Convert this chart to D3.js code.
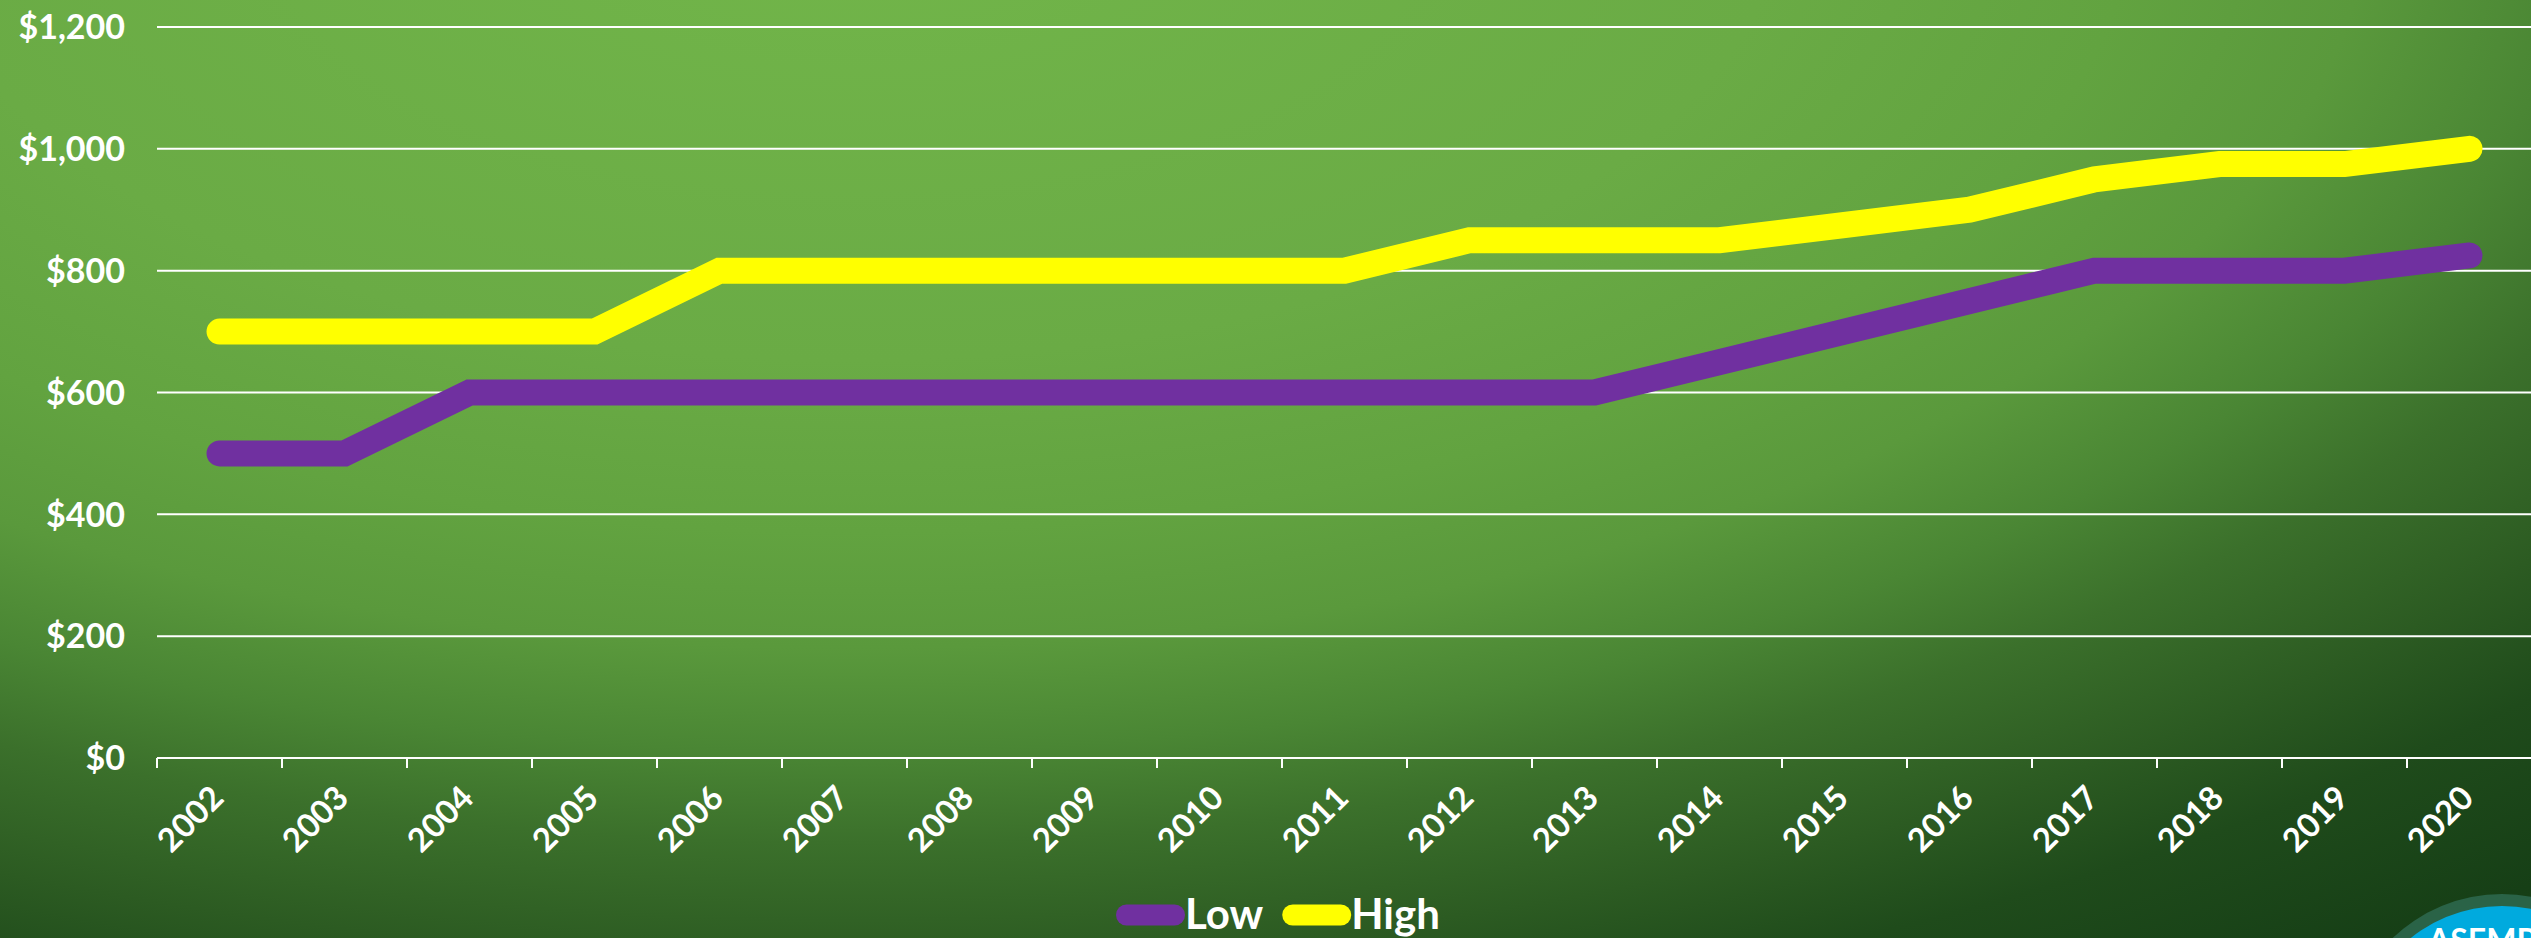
<!DOCTYPE html>
<html>
<head>
<meta charset="utf-8">
<script src="https://cdn.jsdelivr.net/npm/d3@7"></script>
<style>
  html, body { margin: 0; padding: 0; overflow: hidden; background: #2c5b22; }
  svg { display: block; }
  text { font-family: Lato, "Noto Sans", sans-serif; font-weight: 700; fill: #ffffff; }
</style>
</head>
<body>
<svg id="chart" width="2531" height="938"></svg>
<script>
const years = ["2002","2003","2004","2005","2006","2007","2008","2009","2010","2011",
               "2012","2013","2014","2015","2016","2017","2018","2019","2020"];
const lowValues  = [500,500,600,600,600,600,600,600,600,600,600,600,650,700,750,800,800,800,825];
const highValues = [700,700,700,700,800,800,800,800,800,800,850,850,850,875,900,950,975,975,1000];
const yTicks = [0,200,400,600,800,1000,1200];
const seriesNames = ["Low","High"];
const seriesColors = ["#7030a0","#ffff00"];

const W = 2531, H = 938;
const svg = d3.select("#chart");

// background
const defs = svg.append("defs");
const grad = defs.append("radialGradient")
  .attr("id","bg").attr("gradientUnits","userSpaceOnUse")
  .attr("cx",850).attr("cy",-100).attr("r",2800).attr("fx",850).attr("fy",-100)
  .attr("gradientTransform","translate(850,-100) scale(1,0.493) translate(-850,100)");
[[0,"#72b64a"],[0.333,"#6aab45"],[0.458,"#62a340"],[0.542,"#5a993c"],[0.617,"#4a8634"],
 [0.683,"#3b702b"],[0.767,"#2c5b22"],[0.833,"#1f4b1b"],[0.933,"#163f16"],[1,"#123813"]].forEach(s =>
  grad.append("stop").attr("offset",s[0]).attr("stop-color",s[1]));
svg.append("rect").attr("width",W).attr("height",H).attr("fill","url(#bg)");

const x = d3.scaleBand().domain(years).range([157, 2532]).padding(0);
const y = d3.scaleLinear().domain([0,1200]).range([758, 27]);

// gridlines
svg.append("g").selectAll("line").data(yTicks.filter(d => d > 0)).join("line")
  .attr("x1",157).attr("x2",W).attr("y1",d => y(d)).attr("y2",d => y(d))
  .attr("stroke","#ffffff").attr("stroke-width",2);

// y labels
svg.append("g").selectAll("text").data(yTicks).join("text")
  .attr("x",125).attr("y",d => y(d)).attr("dy","0.36em")
  .attr("text-anchor","end").attr("font-size",34)
  .text(d => "$" + d3.format(",")(d));

// x axis line and ticks
const xAxis = svg.append("g");
xAxis.append("line").attr("x1",157).attr("x2",W).attr("y1",y(0)).attr("y2",y(0))
  .attr("stroke","#ffffff").attr("stroke-width",2);
const tickPos = years.map(d => x(d)).concat([x(years[years.length-1]) + x.bandwidth()]);
xAxis.selectAll("line.tick").data(tickPos).join("line").attr("class","tick")
  .attr("x1",d => d).attr("x2",d => d).attr("y1",y(0)).attr("y2",y(0)+10)
  .attr("stroke","#ffffff").attr("stroke-width",2);
xAxis.selectAll("text").data(years).join("text")
  .attr("text-anchor","end").attr("font-size",33)
  .attr("transform",d => `translate(${x(d) + x.bandwidth()/2 + 6},${y(0) + 42}) rotate(-45)`)
  .text(d => d);

// lines
const line = d3.line().x((d,i) => x(years[i]) + x.bandwidth()/2).y(d => y(d));
[lowValues, highValues].forEach((vals, k) => {
  svg.append("path").datum(vals).attr("d", line)
    .attr("fill","none").attr("stroke",seriesColors[k]).attr("stroke-width",26)
    .attr("stroke-linecap","round").attr("stroke-linejoin","miter");
});

// legend
const lg = svg.append("g");
let lx = 1116;
const ly = 915;
seriesNames.forEach((name, k) => {
  lg.append("line").attr("x1",lx+10.5).attr("x2",lx+58.5).attr("y1",ly).attr("y2",ly)
    .attr("stroke",seriesColors[k]).attr("stroke-width",21).attr("stroke-linecap","round");
  const t = lg.append("text").attr("x",lx+69).attr("y",929).attr("font-size",42).text(name);
  lx = lx + 69 + t.node().getComputedTextLength() + 19;
});

// logo (partially visible, bottom right)
const logo = svg.append("g");
logo.append("circle").attr("cx",2502).attr("cy",1052).attr("r",158).attr("fill","#2a6347");
logo.append("circle").attr("cx",2502).attr("cy",1052).attr("r",146).attr("fill","#00aade");
logo.append("text").attr("x",2428).attr("y",952).attr("font-size",32).attr("font-weight",900)
  .text("ASEMPA");
</script>
</body>
</html>
